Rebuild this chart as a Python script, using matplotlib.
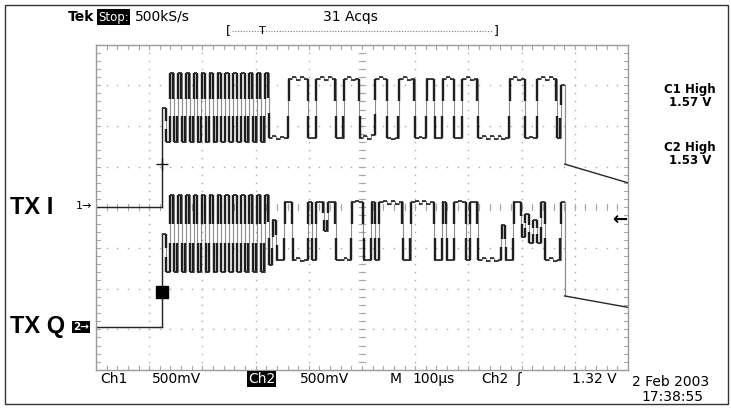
import numpy as np
import matplotlib
matplotlib.use("Agg")
import matplotlib.pyplot as plt
from matplotlib.lines import Line2D
from matplotlib.patches import Rectangle

VOLTS_PER_DIV = 0.5
US_PER_DIV = 100.0
CH1_OFFSET_DIV = 0.0      # ground marker "1->"
CH2_OFFSET_DIV = -2.94    # ground marker "2->"
TRIGGER_V = 1.32          # Ch2 trigger level

START_US = 124.0          # burst start
SYMBOL_US = 7.42          # symbol duration

CH1_LOW_V, CH1_HIGH_V = 0.85, 1.58
CH2_LOW_V, CH2_HIGH_V = 0.82, 1.53

# relative symbol levels (0 = low, 1 = high)
ch1_levels = [0.5,
              -0.07, 1.1, -0.07, 1.1, -0.07, 1.1, -0.07, 1.1, -0.07, 1.1, -0.07, 1.1, -0.07,
              1.1, -0.07, 1.1, -0.07, 1.1, -0.07, 1.1, -0.07, 1.1, -0.07, 1.1, -0.07, 1.1,
              0, 0.03, -0.02, 0.02, 0,
              1, 1.02, 0.97, 1.03, 1,
              0, 0,
              1, 1.03, 0.98, 1.02, 1,
              0, 0,
              1, 1.02, 0.98, 1,
              0, 0.03, -0.02, 0.05,
              1, 1.03, 1,
              0, -0.02, 0,
              1, 1.02, 0.98, 1,
              0, 0.02, 0,
              1, 1,
              0, 0,
              1, 1.03, 1,
              0, 0,
              1, 1.03, 0.98, 1,
              0, 0.03, -0.02, 0.03, -0.02, 0.03, -0.02, 0,
              1, 1.02, 0.98, 1,
              0, 0.02, 0,
              1, 1.03, 0.98, 1.02, 1,
              0,
              0.9]

ch2_levels = [0.45,
              -0.2, 1.12, -0.2, 1.12, -0.2, 1.12, -0.2, 1.12, -0.2, 1.12, -0.2, 1.12, -0.2,
              1.12, -0.2, 1.12, -0.2, 1.12, -0.2, 1.12, -0.2, 1.12, -0.2, 1.12, -0.2, 1.12,
              -0.08, 0.7,
              0, 0,
              1, 1,
              0, 0.03, -0.02, 0,
              1,
              0,
              1, 1,
              0.5,
              1, 1,
              0, 0, 0.03, 0,
              1, 1.02, 1,
              0, 0,
              1,
              0,
              1, 1.03, 0.98, 1.02, 0.98, 1,
              0, 0,
              1, 1.02, 0.98, 1.03, 0.98, 1,
              0, 0,
              1,
              0, 0,
              1, 1.02, 1,
              0,
              1, 1,
              0, 0.03, -0.02, 0.03, -0.02, 0,
              0.6,
              0, 0,
              1, 1,
              0.4, 0.8, 0.3, 0.7, 0.3,
              1,
              0, 0.03, -0.02, 0,
              1]

# decaying level after the burst (end of burst -> right edge of screen)
TAIL_US = [881.0, 1000.0]
ch1_tail_v = [0.53, 0.30]
ch2_tail_v = [0.38, 0.24]

# markers on the rising edges
MARK_CH1_V = 0.53
MARK_CH2_V = 0.43

# ---------------- figure ----------------
W, H = 731, 408
fig = plt.figure(figsize=(W / 100, H / 100), dpi=100)
fig.patch.set_facecolor("white")


def fx(px):
    return px / W


def fy(py):
    return 1 - py / H


SCR_L, SCR_R, SCR_T, SCR_B = 96, 628, 44.5, 370
ax = fig.add_axes([fx(SCR_L), fy(SCR_B), (SCR_R - SCR_L) / W, (SCR_B - SCR_T) / H])
ax.set_xlim(0, 10 * US_PER_DIV)
ax.set_ylim(-4, 4)
ax.set_xticks([])
ax.set_yticks([])
for s in ax.spines.values():
    s.set_color("#9a9a9a")
    s.set_linewidth(1.0)

GRID_C = "#a8a8a8"
# graticule dots
minor_x = np.arange(0, 1000.1, 20)
minor_y = np.arange(-4, 4.01, 0.2)
for xd in range(1, 10):
    ax.plot(np.full_like(minor_y, xd * 100), minor_y, ls="none", marker="s",
            ms=1.0, color=GRID_C, mew=0)
for yd in range(-3, 4):
    ax.plot(minor_x, np.full_like(minor_x, yd), ls="none", marker="s",
            ms=1.0, color=GRID_C, mew=0)
# center line ticks
for t in minor_x:
    ax.plot([t, t], [-0.07, 0.07], color=GRID_C, lw=0.8)
    ax.plot([t, t], [4, 3.9], color=GRID_C, lw=0.8)
    ax.plot([t, t], [-4, -3.9], color=GRID_C, lw=0.8)
for yv in minor_y:
    ax.plot([494, 506], [yv, yv], color=GRID_C, lw=0.8)
    ax.plot([0, 7], [yv, yv], color=GRID_C, lw=0.8)
    ax.plot([993, 1000], [yv, yv], color=GRID_C, lw=0.8)


def to_div(v, off):
    return np.asarray(v) / VOLTS_PER_DIV + off


def draw_channel(levels, lo, hi, off, tail_v):
    lv = np.asarray(levels, dtype=float)
    volts = lo + lv * (hi - lo)
    edges = START_US + SYMBOL_US * np.arange(len(volts) + 1)
    t = np.r_[0.0, edges]
    v = np.r_[0.0, volts, volts[-1]]
    yd = to_div(v, off)
    # thin grey trace (fast edges look light on the persistence display)
    ax.plot(t, yd, drawstyle="steps-post", color="#8c8c8c", lw=0.8)
    # dark dwell near the ends of each edge
    ydv = to_div(volts, off)
    prev = ydv[:-1]
    nxt = ydv[1:]
    d = nxt - prev
    big = np.abs(d) > 0.15
    te = edges[1:-1][big]
    ax.vlines(te - 0.6, prev[big], prev[big] + 0.38 * d[big], color="#1e1e1e", lw=1.7)
    ax.vlines(te + 0.6, nxt[big] - 0.38 * d[big], nxt[big], color="#1e1e1e", lw=1.7)
    # plateaus
    ax.hlines(ydv, edges[:-1], edges[1:], color="#262626", lw=1.2)
    # ground before the burst
    ax.plot([0, START_US], to_div([0, 0], off), color="#262626", lw=1.0)
    ax.plot([START_US, START_US], [to_div(0, off), ydv[0]], color="#262626", lw=1.0)
    # decay after the burst
    ax.plot([edges[-1], edges[-1]], [ydv[-1], to_div(tail_v[0], off)], color="#8c8c8c",
            lw=0.9)
    ax.plot(TAIL_US, to_div(tail_v, off), color="#262626", lw=1.0)


draw_channel(ch1_levels, CH1_LOW_V, CH1_HIGH_V, CH1_OFFSET_DIV, ch1_tail_v)
draw_channel(ch2_levels, CH2_LOW_V, CH2_HIGH_V, CH2_OFFSET_DIV, ch2_tail_v)

ax.plot([START_US], to_div([MARK_CH1_V], CH1_OFFSET_DIV), marker="+", ms=9,
        color="#1a1a1a", mew=1.0)
ax.plot([START_US], to_div([MARK_CH2_V], CH2_OFFSET_DIV), marker="s", ms=8,
        color="black")
ax.text(985, to_div(TRIGGER_V, CH2_OFFSET_DIV), "\u2190", ha="center", va="center",
        fontsize=13, fontweight="bold", color="black")

# ---------------- texts ----------------
F = "DejaVu Sans"
fig.text(fx(68), fy(17), "Tek", fontsize=10, fontweight="bold", family=F, va="center")
fig.text(fx(98), fy(17), "Stop:", fontsize=8.5, family=F, va="center",
         color="white", bbox=dict(facecolor="black", edgecolor="none", pad=0.8))
fig.text(fx(135), fy(17), "500kS/s", fontsize=10, family=F, va="center")
fig.text(fx(323), fy(17), "31 Acqs", fontsize=10, family=F, va="center")

fig.text(fx(226), fy(31), "[", fontsize=9, family=F, va="center")
fig.text(fx(259), fy(31), "T", fontsize=8, family=F, va="center")
fig.text(fx(494), fy(31), "]", fontsize=9, family=F, va="center")
fig.add_artist(Line2D([fx(232), fx(493)], [fy(31), fy(31)], color="#777777", lw=0.8,
                      ls=(0, (1, 1.5))))

fig.text(fx(10), fy(208), "TX I", fontsize=17, fontweight="bold", family="Liberation Sans",
         va="center")
fig.text(fx(10), fy(327), "TX Q", fontsize=17, fontweight="bold", family="Liberation Sans",
         va="center")
fig.text(fx(76), fy(206), "1\u2192", fontsize=8, family=F, va="center")
fig.text(fx(73), fy(327), "2\u2192", fontsize=7.5, fontweight="bold", family=F,
         va="center", color="white",
         bbox=dict(facecolor="black", edgecolor="none", pad=0.8))

for y0, name, val in [(89, "C1 High", "1.57 V"), (148, "C2 High", "1.53 V")]:
    fig.text(fx(690), fy(y0), name, fontsize=8.5, fontweight="bold", family=F,
             ha="center", va="center")
    fig.text(fx(690), fy(y0 + 13), val, fontsize=8.5, fontweight="bold", family=F,
             ha="center", va="center")

ROW = 379
fig.text(fx(100), fy(ROW), "Ch1", fontsize=10, family=F, va="center")
fig.text(fx(152), fy(ROW), "500mV", fontsize=10, family=F, va="center")
fig.text(fx(248), fy(ROW), "Ch2", fontsize=10, family=F, va="center", color="white",
         bbox=dict(facecolor="black", edgecolor="none", pad=0.6))
fig.text(fx(300), fy(ROW), "500mV", fontsize=10, family=F, va="center")
fig.text(fx(390), fy(ROW), "M", fontsize=10, family=F, va="center")
fig.text(fx(412), fy(ROW), "100\u00b5s", fontsize=10, family=F, va="center")
fig.text(fx(481), fy(ROW), "Ch2", fontsize=10, family=F, va="center")
fig.text(fx(516), fy(ROW), "\u0283", fontsize=10, family=F, va="center")
fig.text(fx(572), fy(ROW), "1.32 V", fontsize=10, family=F, va="center")
fig.text(fx(632), fy(382), "2 Feb 2003", fontsize=10, family=F, va="center")
fig.text(fx(641), fy(397), "17:38:55", fontsize=10, family=F, va="center")

# outer frame
fig.add_artist(Rectangle((fx(5), fy(404)), fx(728) - fx(5), fy(5) - fy(404),
                         fill=False, edgecolor="#333333", lw=1.0))

fig.savefig("out.png", dpi=100, facecolor="white")
